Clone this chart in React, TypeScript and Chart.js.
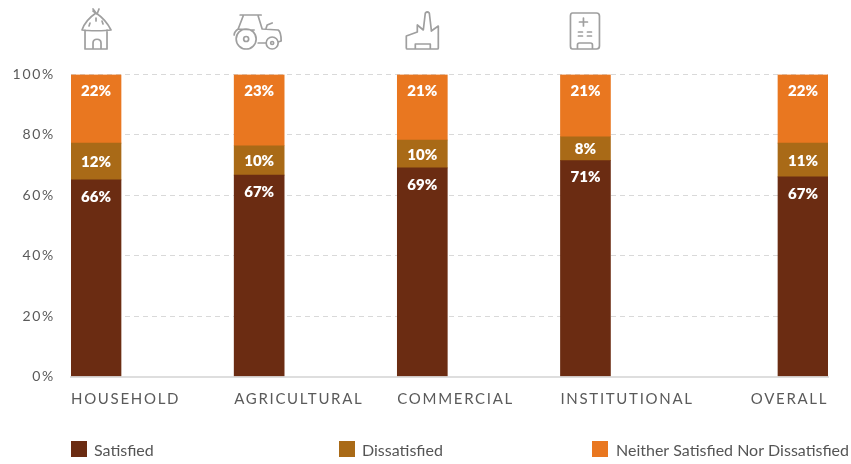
import React, { useEffect, useRef } from "react";
import { Chart, registerables } from "chart.js";

Chart.register(...registerables);

const categories = ["HOUSEHOLD", "AGRICULTURAL", "COMMERCIAL", "INSTITUTIONAL", "OVERALL"];
const xSlots = [0, 3, 6, 9, 13];
const labelSlots = [-0.46, 2.54, 5.54, 8.54, 12.04];
const satisfied = [65.1, 66.7, 69.1, 71.5, 66.1];
const dissatisfied = [12.2, 9.7, 9.2, 7.9, 11.2];
const neither = [22.7, 23.6, 21.7, 20.6, 22.7];
const satisfiedLabels = ["66%", "67%", "69%", "71%", "67%"];
const dissatisfiedLabels = ["12%", "10%", "10%", "8%", "11%"];
const neitherLabels = ["22%", "23%", "21%", "21%", "22%"];
const seriesNames = ["Satisfied", "Dissatisfied", "Neither Satisfied Nor Dissatisfied"];
const seriesColors = ["#6b2c12", "#a96a17", "#e97720"];
const legendX = [71, 339, 592];
const legendTextX = [94, 362, 616];
const FONT = "Lato, 'Open Sans', sans-serif";

const iconPaths: string[] = [
  // hut
  "M-14 30 C-12 24 -6 17 0 13 C6 17 12 24 15 30 C9 31 -8 31 -14 30 Z M-11 30 L-11 49 L11 49 L11 30 M-3 49 L-3 43 C-3 38 5 38 5 43 L5 49 M-3 11 L1 14 L3 9 M-3 9 L0 13 M-6 23 L-7 26 M0 18 L0 21 M6 21 L7 24",
  // tractor
  "M-19 15 L2 15 M-16 16 L-21 29 M-1 16 L3 29 L19 30 C22 32 22 37 22 41 L19 42 M-5 30 L-21 29 C-24 31 -25 33 -25 35 M-1 43 L7 43 M7 28 L8 25 L13 23 M-13 49 A10 10 0 1 0 -13 29 A10 10 0 1 0 -13 49 Z M13 49 A6 6 0 1 0 13 37 A6 6 0 1 0 13 49 Z M-13 41.5 A2.5 2.5 0 1 0 -13 36.5 A2.5 2.5 0 1 0 -13 41.5 Z M13 44.5 A1.5 1.5 0 1 0 13 41.5 A1.5 1.5 0 1 0 13 44.5 Z",
  // factory
  "M-16 36 L-16 48 Q-16 49 -15 49 L15 49 Q16 49 16 48 L16 26 L9 31 L9 30 L7 13 Q5 11 3 13 L1 30 L-5 25 L-5 32 L-16 36 M-7 49 L-7 44 L8 44 L8 49",
  // hospital
  "M-13 13 L11 13 Q14 13 14 16 L14 46 Q14 49 11 49 L-13 49 Q-15 49 -15 46 L-15 16 Q-15 13 -13 13 Z M-2 18 L-2 26 M-6 22 L2 22 M-7 32 L-3 32 M2 32 L6 32 M-7 36 L-3 36 M2 36 L6 36 M-8 49 L-8 45 Q-8 43 -6 43 L5 43 Q7 43 7 45 L7 49",
];

const chartDecor = {
  id: "chartDecor",
  beforeDraw(chart: any) {
    chart.ctx.letterSpacing = "1.7px";
  },
  beforeDatasetsDraw(chart: any) {
    chart.ctx.letterSpacing = "0px";
  },
  afterDatasetsDraw(chart: any) {
    const { ctx } = chart;
    const labelSets = [satisfiedLabels, dissatisfiedLabels, neitherLabels];
    ctx.save();
    ctx.fillStyle = "#ffffff";
    ctx.font = `800 15px ${FONT}`;
    ctx.textAlign = "center";
    ctx.textBaseline = "middle";
    labelSets.forEach((labels, d) => {
      const bars = chart.getDatasetMeta(d).data;
      labels.forEach((text, i) => {
        const bar = bars[i];
        const y = d === 1 ? (bar.y + bar.base) / 2 + 1 : bar.y + 17;
        ctx.fillText(text, bar.x, y);
      });
    });
    ctx.restore();
  },
  afterDraw(chart: any) {
    const { ctx } = chart;
    const x = chart.scales.x;
    ctx.save();
    ctx.strokeStyle = "#9f9f9f";
    ctx.lineWidth = 1.7;
    ctx.lineCap = "round";
    ctx.lineJoin = "round";
    iconPaths.forEach((d, i) => {
      ctx.save();
      ctx.translate(x.getPixelForValue(xSlots[i]), 0);
      ctx.stroke(new Path2D(d));
      ctx.restore();
    });
    ctx.restore();

    ctx.save();
    ctx.font = `16px ${FONT}`;
    ctx.textBaseline = "middle";
    ctx.textAlign = "left";
    seriesNames.forEach((name, i) => {
      ctx.fillStyle = seriesColors[i];
      ctx.fillRect(legendX[i], 441, 16, 16);
      ctx.fillStyle = "#555555";
      ctx.fillText(name, legendTextX[i], 451);
    });
    ctx.restore();
  },
};

export default function App() {
  const ref = useRef<HTMLCanvasElement>(null);
  useEffect(() => {
    const series = [satisfied, dissatisfied, neither];
    const chart = new Chart(ref.current!, {
      type: "bar",
      data: {
        datasets: series.map((values, d) => ({
          label: seriesNames[d],
          data: values.map((y, i) => ({ x: xSlots[i], y })),
          backgroundColor: seriesColors[d],
          barThickness: 50,
          borderWidth: 0,
        })),
      },
      options: {
        responsive: false,
        animation: false,
        layout: { padding: { top: 74.5, right: 23, left: 0, bottom: 0 } },
        plugins: { legend: { display: false }, tooltip: { enabled: false } },
        scales: {
          x: {
            type: "linear",
            offset: false,
            stacked: true,
            min: -0.46,
            max: 13.46,
            grid: { display: false, offset: false },
            border: { display: true, color: "#dedede", width: 2 },
            afterBuildTicks(scale: any) {
              scale.ticks = labelSlots.map((value) => ({ value }));
            },
            afterFit(scale: any) {
              scale.height = 87.5;
              scale.paddingLeft = 0;
              scale.paddingRight = 0;
            },
            ticks: {
              autoSkip: false,
              maxRotation: 0,
              minRotation: 0,
              align: "start",
              padding: 6,
              color: "#5a5a5a",
              font: { family: FONT, size: 15 },
              callback: (_v: any, i: number) => categories[i],
            },
          },
          y: {
            stacked: true,
            min: 0,
            max: 100,
            border: { display: false, dash: [5, 4] },
            grid: {
              drawTicks: false,
              color: (c: any) => (c.tick.value === 0 ? "transparent" : "#d9d9d9"),
            },
            afterFit(scale: any) {
              scale.width = 71;
            },
            ticks: {
              stepSize: 20,
              padding: 16,
              color: "#5a5a5a",
              font: { family: FONT, size: 14 },
              callback: (v: any) => `${v}%`,
            },
          },
        },
      },
      plugins: [chartDecor],
    } as any);
    return () => chart.destroy();
  }, []);
  return (
    <canvas
      ref={ref}
      width={851}
      height={464}
      style={{ position: "fixed", left: 0, top: 0, width: 851, height: 464 }}
    />
  );
}
